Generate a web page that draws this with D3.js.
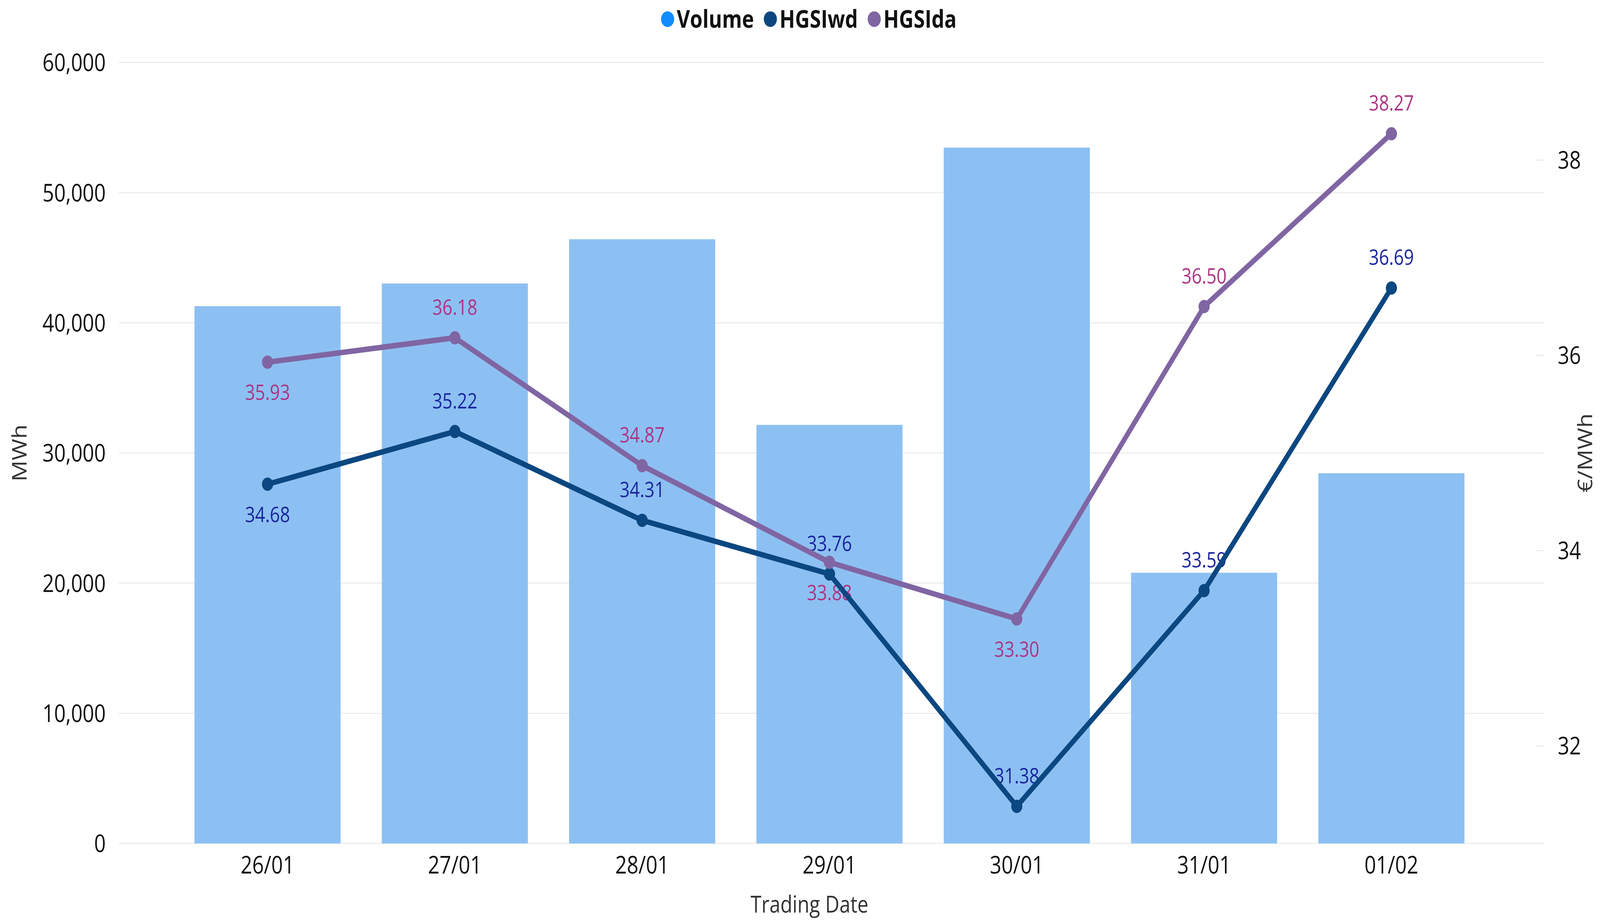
<!DOCTYPE html>
<html>
<head>
<meta charset="utf-8">
<script src="https://cdn.jsdelivr.net/npm/d3@7"></script>
<style>
  html, body { margin: 0; padding: 0; background: #ffffff; overflow: hidden; width: 100%; height: 100%; }
  svg { display: block; width: 100vw; height: 100vh; }
  text { font-family: "Segoe UI", "Open Sans", "Noto Sans", sans-serif; }
</style>
</head>
<body>
<svg id="chart" viewBox="0 0 4886 2356" preserveAspectRatio="none"></svg>
<script>
// ---------- data ----------
const categories = ["26/01", "27/01", "28/01", "29/01", "30/01", "31/01", "01/02"];
const volume = [41280, 43020, 46420, 32160, 53460, 20800, 28440];
const hgsiwd = [34.68, 35.22, 34.31, 33.76, 31.38, 33.59, 36.69];
const hgsida = [35.93, 36.18, 34.87, 33.88, 33.30, 36.50, 38.27];
const leftTicks = [0, 10000, 20000, 30000, 40000, 50000, 60000];
const rightTicks = [32, 34, 36, 38];
const seriesNames = ["Volume", "HGSIwd", "HGSIda"];
// label placement relative to the point (Power BI style)
const wdLabelSide = ["below", "above", "above", "above", "above", "above", "above"];
const daLabelSide = ["below", "above", "above", "below", "below", "above", "above"];

// ---------- styles ----------
const colors = {
  volumeLegend: "#118DFF",
  bar: "#8DC0F2",
  wd: "#0B4780",
  da: "#8065A3",
  wdLabel: "#1A259E",
  daLabel: "#AC3583",
  grid: "#EDEDED"
};

const svg = d3.select("#chart");
const plot = { left: 363, right: 4716, top: 160, bottom: 2160 };

const x = d3.scaleBand()
  .domain(categories)
  .range([531, 4535])
  .paddingInner(0.22)
  .paddingOuter(0.11);

const yL = d3.scaleLinear().domain([0, 60000]).range([plot.bottom, plot.top]);
const yR = d3.scaleLinear().domain([31, 39]).range([plot.bottom, plot.top]);

// ---------- gridlines ----------
const gGrid = svg.append("g");
gGrid.selectAll("line.grid")
  .data(leftTicks)
  .join("line")
  .attr("x1", plot.left).attr("x2", plot.right)
  .attr("y1", d => yL(d)).attr("y2", d => yL(d))
  .attr("stroke", colors.grid)
  .attr("stroke-width", 3);

// secondary axis tick stubs
gGrid.selectAll("line.stub")
  .data(rightTicks)
  .join("line")
  .attr("x1", plot.right - 28).attr("x2", plot.right)
  .attr("y1", d => yR(d)).attr("y2", d => yR(d))
  .attr("stroke", colors.grid)
  .attr("stroke-width", 3);

// ---------- left axis ----------
const fmt = d3.format(",");
const leftAxis = d3.axisLeft(yL).tickValues(leftTicks).tickFormat(fmt).tickSize(0).tickPadding(0);
const gL = svg.append("g").attr("transform", "translate(323,0)").call(leftAxis);
gL.select(".domain").remove();
gL.selectAll("text")
  .attr("font-size", 62)
  .attr("fill", "#111")
  .attr("dy", "0.35em")
  .style("font-family", "'Segoe UI', 'Open Sans', sans-serif");

// ---------- right axis ----------
const rightAxis = d3.axisRight(yR).tickValues(rightTicks).tickFormat(d3.format("d")).tickSize(0).tickPadding(0);
const gR = svg.append("g").attr("transform", "translate(4757,0)").call(rightAxis);
gR.select(".domain").remove();
gR.selectAll("text")
  .attr("font-size", 62)
  .attr("fill", "#111")
  .attr("dy", "0.35em")
  .style("font-family", "'Segoe UI', 'Open Sans', sans-serif");

// ---------- x axis ----------
const xAxis = d3.axisBottom(x).tickSize(0).tickPadding(0);
const gX = svg.append("g").attr("transform", "translate(0,2215)").call(xAxis);
gX.select(".domain").remove();
gX.selectAll("text")
  .attr("font-size", 62)
  .attr("fill", "#111")
  .attr("dy", "0.35em")
  .style("font-family", "'Segoe UI', 'Open Sans', sans-serif");

// ---------- axis titles ----------
svg.append("text")
  .attr("x", 2472).attr("y", 2337)
  .attr("text-anchor", "middle")
  .attr("font-size", 60).attr("fill", "#333")
  .text("Trading Date");

svg.append("text")
  .attr("transform", "translate(60,1160) rotate(-90)")
  .attr("text-anchor", "middle").attr("dy", "0.35em")
  .attr("font-size", 60).attr("fill", "#333")
  .text("MWh");

svg.append("text")
  .attr("transform", "translate(4862,1160) rotate(-90)")
  .attr("text-anchor", "middle")
  .attr("font-size", 60).attr("fill", "#333")
  .text("€/MWh");

// ---------- bars ----------
svg.append("g").selectAll("rect")
  .data(categories.map((c, i) => ({ c, v: volume[i] })))
  .join("rect")
  .attr("x", d => x(d.c))
  .attr("width", x.bandwidth())
  .attr("y", d => yL(d.v))
  .attr("height", d => yL(0) - yL(d.v))
  .attr("fill", colors.bar);

// ---------- data labels (drawn beneath lines) ----------
const cx = c => x(c) + x.bandwidth() / 2;
function drawLabels(values, sides, color) {
  svg.append("g").selectAll("text")
    .data(categories.map((c, i) => ({ c, v: values[i], s: sides[i] })))
    .join("text")
    .attr("x", d => cx(d.c))
    .attr("y", d => yR(d.v) + (d.s === "above" ? -78 : 78))
    .attr("dy", "0.35em")
    .attr("text-anchor", "middle")
    .attr("font-size", 54)
    .attr("fill", color)
    .text(d => d.v.toFixed(2));
}
drawLabels(hgsiwd, wdLabelSide, colors.wdLabel);
drawLabels(hgsida, daLabelSide, colors.daLabel);

// ---------- lines ----------
function drawLine(values, color) {
  const pts = categories.map((c, i) => [cx(c), yR(values[i])]);
  svg.append("path")
    .attr("d", d3.line()(pts))
    .attr("fill", "none")
    .attr("stroke", color)
    .attr("stroke-width", 14)
    .attr("stroke-linejoin", "round");
  svg.append("g").selectAll("circle")
    .data(pts)
    .join("circle")
    .attr("cx", d => d[0]).attr("cy", d => d[1])
    .attr("r", 17)
    .attr("fill", color);
}
drawLine(hgsiwd, colors.wd);
drawLine(hgsida, colors.da);

// ---------- legend ----------
const legendColors = [colors.volumeLegend, colors.wd, colors.da];
const gLeg = svg.append("g");
let cursor = 0;
seriesNames.forEach((name, i) => {
  const g = gLeg.append("g");
  g.append("circle").attr("cx", 20).attr("cy", 0).attr("r", 20).attr("fill", legendColors[i]);
  const t = g.append("text")
    .attr("x", 48).attr("y", 0).attr("dy", "0.35em")
    .attr("font-size", 62).attr("font-weight", "bold").attr("fill", "#111")
    .text(name);
  const w = 48 + t.node().getComputedTextLength();
  g.attr("transform", `translate(${cursor},49)`);
  cursor += w + 30;
});
const legendWidth = cursor - 30;
gLeg.attr("transform", `translate(${2470 - legendWidth / 2},0)`);
</script>
</body>
</html>
